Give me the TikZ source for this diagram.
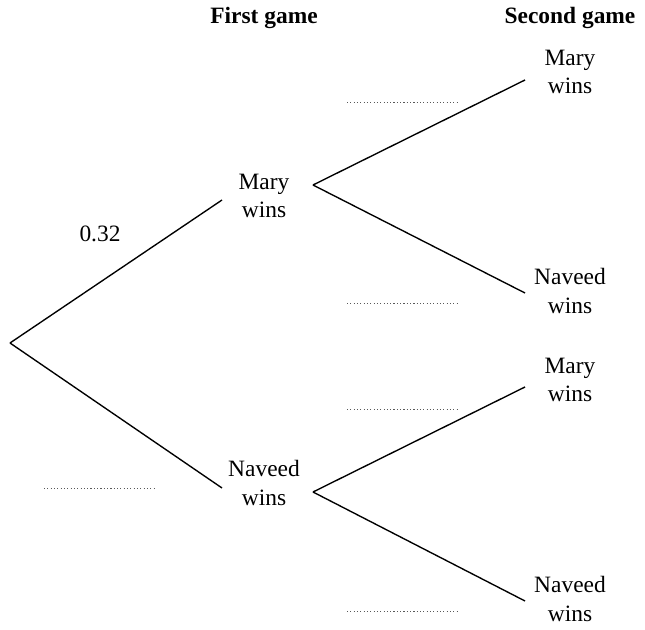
\documentclass[tikz,border=0pt]{standalone}
\usepackage{fontspec}
\setmainfont{Liberation Serif}
\usetikzlibrary{calc}

\begin{document}
\begin{tikzpicture}[x=0.018cm,y=-0.018cm,
    branch/.style={line width=0.7pt},
    gap/.style={line width=0.5pt,dash pattern=on 0.6pt off 1.1pt,gray!70!black},
    outcome/.style={align=center,font=\fontsize{12}{14.4}\selectfont,inner sep=0pt},
    heading/.style={font=\fontsize{12}{14.4}\selectfont\bfseries,inner sep=0pt}]
    \useasboundingbox (0,0) rectangle (645,630);
    \pgfmathsetmacro{\xa}{264};
    \pgfmathsetmacro{\xb}{570};
    \pgfmathsetmacro{\dl}{111};

    % headings
    \node[heading] (hfirst) at (\xa,18) {First game};
    \node[heading] (hsecond) at (\xb,18) {Second game};

    % first game
    \coordinate (O) at (10,343);
    \coordinate (Mi) at (222,200);
    \coordinate (Ni) at (222,488);
    \node[outcome] (M) at (\xa,196) {Mary\\wins};
    \node[outcome] (N) at (\xa,483) {Naveed\\wins};
    \draw[branch] (O) -- (Mi);
    \draw[branch] (O) -- (Ni);

    % second game
    \coordinate (Mo) at (313,185);
    \coordinate (No) at (313,492);
    \coordinate (MMi) at (525,80);
    \coordinate (MNi) at (525,293);
    \coordinate (NMi) at (525,387);
    \coordinate (NNi) at (525,601);
    \node[outcome] (MM) at (\xb,72) {Mary\\wins};
    \node[outcome] (MN) at (\xb,291) {Naveed\\wins};
    \node[outcome] (NM) at (\xb,380) {Mary\\wins};
    \node[outcome] (NN) at (\xb,599) {Naveed\\wins};
    \draw[branch] (Mo) -- (MMi);
    \draw[branch] (Mo) -- (MNi);
    \draw[branch] (No) -- (NMi);
    \draw[branch] (No) -- (NNi);

    % probabilities
    \node[outcome] (p) at (100,234) {0.32};
    \coordinate (q) at (44,488);
    \draw[gap] (q) --++ (\dl,0);
    \foreach \y in {102,303,409,611}{
        \coordinate (g\y) at (347,\y);
        \draw[gap] (g\y) --++ (\dl,0);
    }
\end{tikzpicture}
\end{document}
